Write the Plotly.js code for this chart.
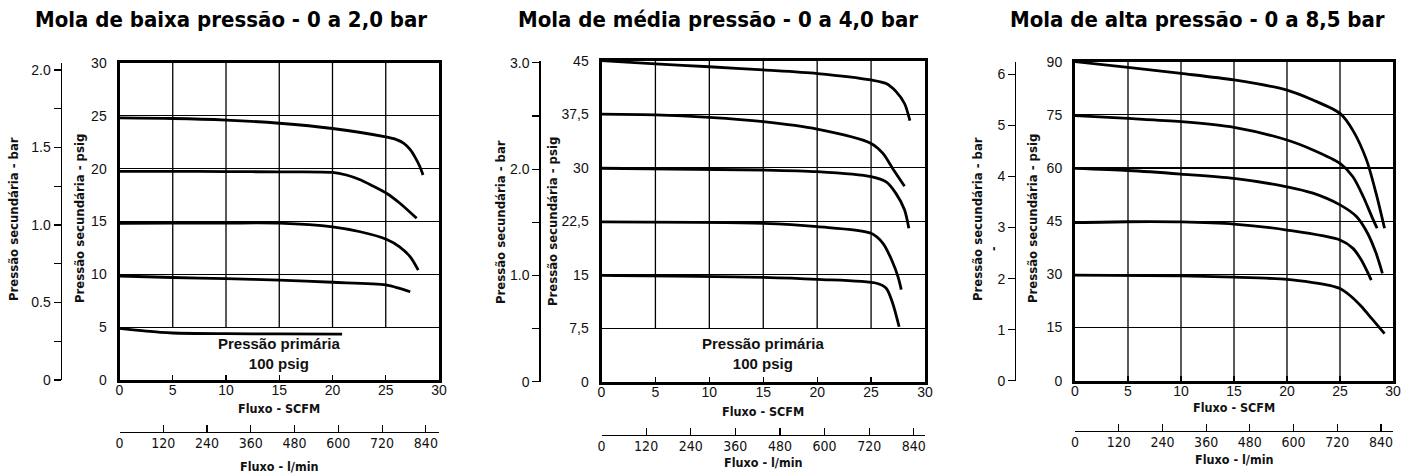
<!DOCTYPE html>
<html><head><meta charset="utf-8">
<script src="https://cdn.plot.ly/plotly-3.0.1.min.js"></script>
<style>html,body{margin:0;padding:0;background:#fff}#chart{width:1413px;height:476px}</style>
</head><body><div id="chart"></div>
<script>
// ---------- DATA ----------
const panelTitles = ['Mola de baixa pressão - 0 a 2,0 bar', 'Mola de média pressão - 0 a 4,0 bar', 'Mola de alta pressão - 0 a 8,5 bar'];
const scfmTicks = [0, 5, 10, 15, 20, 25, 30];
const lminTicks = [0, 120, 240, 360, 480, 600, 720, 840];

// Low pressure spring (psig vs SCFM)
const lowX = [
  [0, 5, 10, 15, 20, 25, 26, 26.7, 27.3, 27.8, 28.2, 28.5],
  [0, 5, 10, 15, 20, 21.3, 22.6, 23.8, 25.1, 26.3, 27.9],
  [0, 5, 10, 15, 20, 22.6, 25.1, 26.3, 27.3, 28.05],
  [0, 5, 10, 15, 20, 25, 26.3, 27.3],
  [0, 2.5, 5, 10, 15, 20.9]
];
const lowY = [
  [24.8, 24.75, 24.6, 24.3, 23.8, 23.0, 22.75, 22.4, 21.8, 21.0, 20.2, 19.4],
  [19.75, 19.75, 19.72, 19.7, 19.65, 19.4, 18.95, 18.35, 17.65, 16.75, 15.3],
  [14.82, 14.85, 14.85, 14.84, 14.5, 14.03, 13.3, 12.6, 11.65, 10.4],
  [9.84, 9.7, 9.6, 9.45, 9.25, 9.0, 8.67, 8.35],
  [4.88, 4.62, 4.45, 4.38, 4.36, 4.35]
];
const lowPsigTicks = [0, 5, 10, 15, 20, 25, 30];
const lowBarTicks = [0, 0.25, 0.5, 0.75, 1.0, 1.25, 1.5, 1.75, 2.0];
const lowBarLabels = ['0', '', '0.5', '', '1.0', '', '1.5', '', '2.0'];

// Medium pressure spring
const midX = [
  [0, 5, 10, 15, 20, 25, 26.4, 27.3, 28.1, 28.6],
  [0, 5, 10, 15, 20, 25, 26.1, 27, 28.1],
  [0, 15, 20, 25, 26.4, 27.3, 28.1, 28.5],
  [0, 15, 20, 25, 26.1, 26.9, 27.5, 27.8],
  [0, 15, 20, 25.5, 26.4, 27, 27.6]
];
const midY = [
  [45, 44.55, 44.15, 43.7, 43.2, 42.3, 41.8, 40.7, 39, 36.6],
  [37.5, 37.4, 37.05, 36.45, 35.4, 33.4, 32, 29.9, 27.4],
  [29.92, 29.68, 29.44, 28.74, 28.0, 26.4, 24.1, 21.5],
  [22.4, 22.2, 21.73, 20.8, 19.4, 17.1, 14.7, 12.9],
  [14.9, 14.63, 14.35, 13.8, 13.1, 11, 7.7]
];
const midPsigTicks = [0, 7.5, 15, 22.5, 30, 37.5, 45];
const midPsigLabels = ['0', '7,5', '15', '22,5', '30', '37,5', '45'];
const midBarTicks = [0, 0.5, 1.0, 1.5, 2.0, 2.5, 3.0];
const midBarLabels = ['0', '', '1.0', '', '2.0', '', '3.0'];

// High pressure spring
const highX = [
  [0, 5, 10, 15, 20, 22.45, 25, 26.2, 27.5, 28.4, 29.2],
  [0, 5, 10, 15, 20, 22.45, 25, 26.2, 27.2, 28, 28.5],
  [0, 5, 10, 15, 20, 22.45, 25, 26.55, 27.6, 28.4, 29],
  [0, 5, 10, 15, 20, 25, 26.2, 27, 27.95],
  [0, 10, 15, 20, 22.45, 24, 25, 26, 27, 28, 29.2]
];
const highY = [
  [90, 88.4, 86.7, 84.85, 82, 79.2, 75.4, 70.7, 62.3, 52.9, 43],
  [74.8, 74, 73.1, 71.5, 67.9, 65.1, 61.3, 57.6, 51.9, 46.3, 43],
  [59.9, 59.3, 58.3, 57.1, 54.7, 52.9, 49.6, 46.3, 41.6, 36, 30.3],
  [44.6, 44.85, 44.8, 44.2, 42.5, 39.7, 37.4, 34.1, 28.4],
  [29.8, 29.55, 29.2, 28.6, 27.7, 26.9, 26.0, 23.9, 21.0, 17.5, 13.3]
];
const highPsigTicks = [0, 15, 30, 45, 60, 75, 90];
const highBarTicks = [0, 1, 2, 3, 4, 5, 6];
const highBarLabels = ['0', '1', '2', '3', '4', '5', '6'];

// ---------- LAYOUT GEOMETRY (pixels) ----------
const W = 1413, H = 476;
const px = v => v / W, py = v => 1 - v / H;
const NARROW = '"Liberation Sans Narrow", "Arial Narrow", "DejaVu Sans Condensed", sans-serif';
const ARIAL = '"Liberation Sans", Arial, sans-serif';

const panels = [
  {X: lowX, Y: lowY, psigT: lowPsigTicks, psigL: lowPsigTicks.map(String), psigMax: 30, gridFrom: 5,
   barT: lowBarTicks, barL: lowBarLabels, barMax: 2.045, lminMax: 876,
   left: 119.5, right: 439, top: 63, bottom: 380, barX: 60.5, lminY: 432,
   title: 231, barTitleX: 14, psigTitleX: 80, titleMid: 219, scfmTitleY: 408.5, lminTitleY: 466, note: true},
  {X: midX, Y: midY, psigT: midPsigTicks, psigL: midPsigLabels, psigMax: 45, gridFrom: 7.5,
   barT: midBarTicks, barL: midBarLabels, barMax: 3.02, lminMax: 870,
   left: 601.5, right: 925, top: 60.7, bottom: 381.7, barX: 539.3, lminY: 435,
   title: 718, barTitleX: 500, psigTitleX: 552, titleMid: 222, scfmTitleY: 411, lminTitleY: 462.5, note: true},
  {X: highX, Y: highY, psigT: highPsigTicks, psigL: highPsigTicks.map(String), psigMax: 90, gridFrom: 0,
   barT: highBarTicks, barL: highBarLabels, barMax: 6.25, lminMax: 873,
   left: 1075, right: 1393, top: 61.7, bottom: 380.7, barX: 1015, lminY: 431,
   title: 1197, barTitleX: 978, psigTitleX: 1033, titleMid: 219, scfmTitleY: 407.7, lminTitleY: 459, note: false, dash: true}
];

const data = [];
const layout = {
  width: W, height: H, margin: {l: 0, r: 0, t: 0, b: 0},
  paper_bgcolor: '#fff', plot_bgcolor: '#fff', showlegend: false,
  font: {family: ARIAL, color: '#111', size: 13},
  annotations: [], shapes: []
};

panels.forEach((p, i) => {
  const n = i * 2 + 1;
  const xa = 'x' + (n === 1 ? '' : n), ya = 'y' + (n === 1 ? '' : n);
  const xb = 'x' + (n + 1), yb = 'y' + (n + 1);
  const xaKey = 'xaxis' + (n === 1 ? '' : n), yaKey = 'yaxis' + (n === 1 ? '' : n);
  p.X.forEach((xs, k) => {
    data.push({x: xs, y: p.Y[k], xaxis: xa, yaxis: ya, mode: 'lines', type: 'scatter',
      line: {color: '#000', width: 2.8, shape: 'spline', smoothing: 0.8}, hoverinfo: 'skip'});
  });
  // empty traces so the secondary axes are drawn
  data.push({x: [], y: [], xaxis: xa, yaxis: yb, type: 'scatter', mode: 'lines', hoverinfo: 'skip'});
  data.push({x: [], y: [], xaxis: xb, yaxis: ya, type: 'scatter', mode: 'lines', hoverinfo: 'skip'});

  const xd = [px(p.left), px(p.right)], yd = [py(p.bottom), py(p.top)];
  layout[xaKey] = {domain: xd, anchor: ya, range: [0, 30], tickvals: scfmTicks, ticktext: scfmTicks.map(String),
    showgrid: false, zeroline: false, showline: true, linecolor: '#000', linewidth: 3, mirror: true,
    ticks: 'inside', ticklen: 5, tickwidth: 1.3, tickcolor: '#000', ticklabelstandoff: -5,
    tickfont: {family: ARIAL, size: 14, color: '#111'}, fixedrange: true};
  layout[yaKey] = {domain: yd, anchor: xa, range: [0, p.psigMax], tickvals: p.psigT, ticktext: p.psigL,
    showgrid: true, gridcolor: '#000', gridwidth: 1.2, zeroline: false, showline: true, linecolor: '#000',
    linewidth: 3, mirror: true, ticks: '', ticklabelstandoff: 7,
    tickfont: {family: ARIAL, size: 14, color: '#111'}, fixedrange: true};
  layout['yaxis' + (n + 1)] = {overlaying: ya, anchor: 'free', position: px(p.barX), side: 'left',
    range: [0, p.barMax], tickvals: p.barT, ticktext: p.barL, showgrid: false, zeroline: false,
    showline: true, linecolor: '#000', linewidth: 1.3, ticks: 'outside', ticklen: 7, tickwidth: 1.2,
    tickcolor: '#000', tickfont: {family: ARIAL, size: 14, color: '#111'}, fixedrange: true};
  layout['xaxis' + (n + 1)] = {overlaying: xa, anchor: 'free', position: py(p.lminY), side: 'bottom',
    range: [0, p.lminMax], tickvals: lminTicks, ticktext: lminTicks.map(String), showgrid: false, zeroline: false,
    showline: true, linecolor: '#000', linewidth: 1.3, ticks: 'inside', ticklen: 7, tickwidth: 1.2,
    tickcolor: '#000', ticklabelstandoff: -2, tickfont: {family: NARROW, size: 14, color: '#111'}, fixedrange: true};

  // vertical grid lines
  scfmTicks.slice(1, -1).forEach(v => {
    layout.shapes.push({type: 'line', xref: xa, yref: ya, x0: v, x1: v, y0: p.gridFrom, y1: p.psigMax,
      line: {color: '#000', width: 1.3}, layer: 'below'});
  });

  const A = layout.annotations;
  A.push({text: '<b>' + panelTitles[i] + '</b>', xref: 'paper', yref: 'paper', x: px(p.title), y: py(19.5),
    xanchor: 'center', yanchor: 'middle', showarrow: false, font: {family: NARROW, size: 22, color: '#000'}});
  A.push({text: '<b>Pressão secundária - bar</b>', xref: 'paper', yref: 'paper', x: px(p.barTitleX), y: py(p.titleMid),
    textangle: -90, xanchor: 'center', yanchor: 'middle', showarrow: false, font: {family: NARROW, size: 13, color: '#111'}});
  A.push({text: '<b>Pressão secundária - psig</b>', xref: 'paper', yref: 'paper', x: px(p.psigTitleX), y: py(p.titleMid),
    textangle: -90, xanchor: 'center', yanchor: 'middle', showarrow: false, font: {family: NARROW, size: 13, color: '#111'}});
  A.push({text: '<b>Fluxo - SCFM</b>', xref: 'paper', yref: 'paper', x: px((p.left + p.right) / 2), y: py(p.scfmTitleY),
    xanchor: 'center', yanchor: 'middle', showarrow: false, font: {family: NARROW, size: 12.5, color: '#111'}});
  A.push({text: '<b>Fluxo - l/min</b>', xref: 'paper', yref: 'paper', x: px((p.left + p.right) / 2), y: py(p.lminTitleY),
    xanchor: 'center', yanchor: 'middle', showarrow: false, font: {family: NARROW, size: 12.5, color: '#111'}});
  if (p.note) {
    A.push({text: '<b>Pressão primária<br>100 psig</b>', xref: 'paper', yref: 'paper', x: px((p.left + p.right) / 2), y: py(353),
      xanchor: 'center', yanchor: 'middle', showarrow: false, font: {family: ARIAL, size: 15, color: '#111'}});
  }
  if (p.dash) {
    A.push({text: '<b>-</b>', xref: 'paper', yref: 'paper', x: px(994), y: py(249),
      textangle: -90, xanchor: 'center', yanchor: 'middle', showarrow: false, font: {family: NARROW, size: 12, color: '#111'}});
  }
});

Plotly.newPlot('chart', data, layout, {staticPlot: true, displayModeBar: false});
</script></body></html>
